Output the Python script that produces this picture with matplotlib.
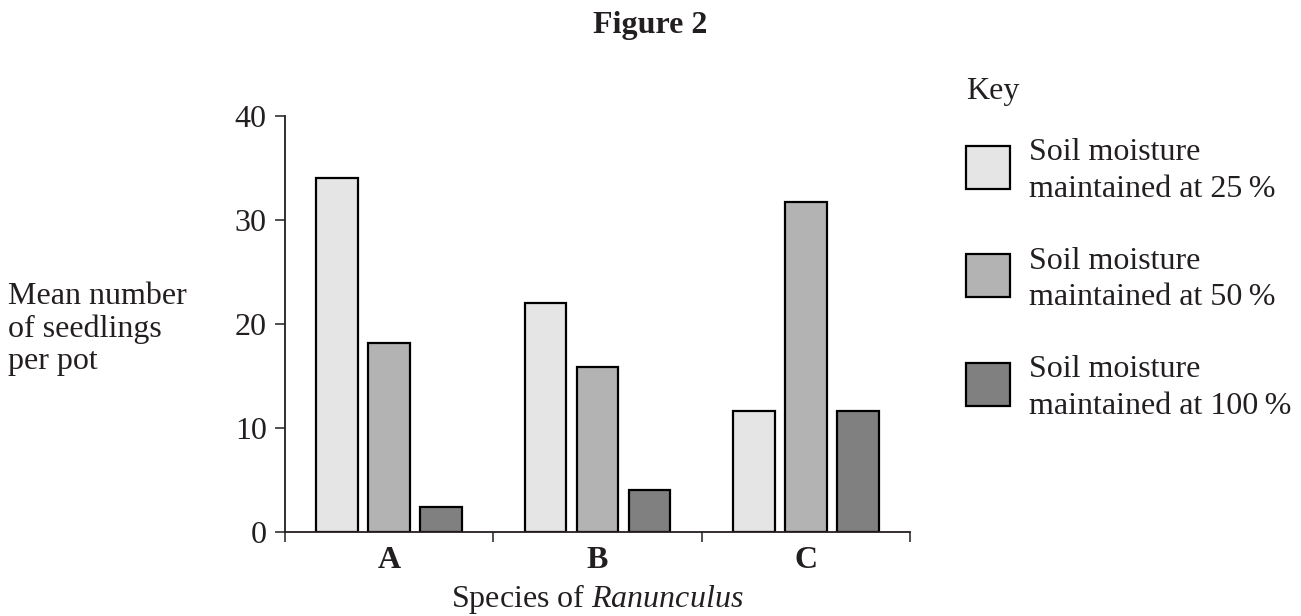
import numpy as np
import matplotlib
matplotlib.use("Agg")
import matplotlib.pyplot as plt
from matplotlib.patches import Rectangle

plt.rcParams['font.family'] = ['Liberation Serif', 'DejaVu Serif']
plt.rcParams['mathtext.fontset'] = 'custom'
plt.rcParams['mathtext.rm'] = 'Liberation Serif'
plt.rcParams['mathtext.it'] = 'Liberation Serif:italic'

# data
species = ['A', 'B', 'C']
moisture_25 = [34.0, 22.0, 11.6]
moisture_50 = [18.2, 15.9, 31.7]
moisture_100 = [2.4, 4.0, 11.6]
levels = ['25', '50', '100']
colors = ['#e5e5e5', '#b3b3b3', '#808080']
ink = '#231f20'
fs = 23

fig = plt.figure(figsize=(13.01, 6.16), dpi=100)
ax = fig.add_axes([0.219, 0.1364, 0.4805, 0.6758])

x = np.arange(len(species))
series = [moisture_25, moisture_50, moisture_100]
for j, vals in enumerate(series):
    ax.bar(x + (j - 1) * 0.25, vals, width=0.2, color=colors[j],
           edgecolor='black', linewidth=1.6)

ax.set_xlim(-0.5, 2.5)
ax.set_ylim(0, 40)
ax.set_yticks([0, 10, 20, 30, 40])
ax.set_xticks([-0.5, 0.5, 1.5, 2.5])
ax.set_xticklabels([])
ax.set_xticks(x, minor=True)
ax.set_xticklabels(species, minor=True, fontweight='bold', fontsize=fs, color=ink)
ax.tick_params(axis='x', which='minor', length=0, pad=10)
ax.tick_params(axis='x', which='major', length=7, width=1.1, color=ink)
ax.tick_params(axis='y', length=7, width=1.1, color=ink, labelsize=fs,
               labelcolor=ink, pad=6)
for s in ['top', 'right']:
    ax.spines[s].set_visible(False)
for s in ['left', 'bottom']:
    ax.spines[s].set_linewidth(1.3)
    ax.spines[s].set_color(ink)

ax.set_xlabel('Species of $\\mathit{Ranunculus}$', fontsize=fs, color=ink, labelpad=5)

fig.text(0.006, 0.466, 'Mean number\nof seedlings\nper pot', fontsize=fs,
         color=ink, ha='left', va='center', linespacing=1.15)
fig.text(0.5, 0.946, 'Figure 2', fontsize=fs, fontweight='bold', color=ink,
         ha='center', va='baseline')

# key, laid out in pixel units
kax = fig.add_axes([0, 0, 1, 1], zorder=-1)
kax.set_xlim(0, 1301)
kax.set_ylim(616, 0)
kax.axis('off')
kax.text(966, 99, 'Key', fontsize=fs, color=ink, va='baseline')
for j, lev in enumerate(levels):
    top = 145.7 + j * 108.5
    kax.add_patch(Rectangle((966, top), 44, 43, facecolor=colors[j],
                            edgecolor='black', linewidth=1.6))
    kax.text(1029, top + 14.5, 'Soil moisture', fontsize=fs, color=ink,
             va='baseline')
    kax.text(1029, top + 51, f'maintained at {lev}\u2009%', fontsize=fs,
             color=ink, va='baseline')

fig.savefig('out.png', dpi=100)
